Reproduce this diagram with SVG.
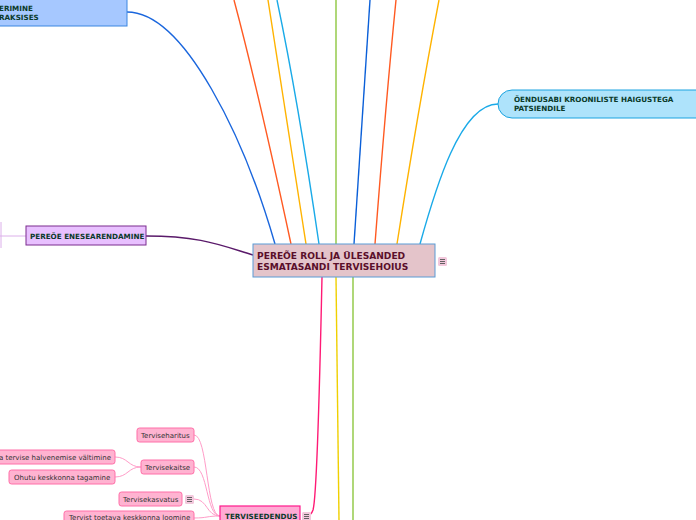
<svg xmlns="http://www.w3.org/2000/svg" width="696" height="520" viewBox="0 0 696 520">
<style>
.b{font-family:"DejaVu Sans",Verdana,sans-serif;font-weight:bold;font-size:7.2px;fill:#0a3a2a}
.c{font-family:"DejaVu Sans",Verdana,sans-serif;font-weight:bold;font-size:9.1px;fill:#5a0f2a}
.s{font-family:"DejaVu Sans",Verdana,sans-serif;font-size:7px;fill:#333}
.ch{fill:#ffb3d1;stroke:#ff6fa8;stroke-width:1}
.cl{fill:none;stroke:#ff9cc8;stroke-width:1}
.l{fill:none;stroke-width:1.4}
</style>
<defs>
<g id="note">
<rect x="0" y="0" width="9" height="9" rx="1.5" fill="#f2c8dc"/>
<path d="M2,2.5h5M2,4.5h5M2,6.5h5" stroke="#555" stroke-width="0.9"/>
</g>
</defs>
<rect width="696" height="520" fill="#fff"/>
<g id="connectors">
<path class="l" stroke="#1a66dd" d="M127,12 C185,12 245,140 275,244"/>
<path class="l" stroke="#ff5a22" d="M234,0 Q258,90 291,244"/>
<path class="l" stroke="#ffb300" d="M268,0 Q284,100 306,244"/>
<path class="l" stroke="#1aaae8" d="M277,0 Q298,100 319,244"/>
<path class="l" stroke="#8dc63f" d="M336,0 L336,244"/>
<path class="l" stroke="#0a5fd8" d="M370,0 Q363,100 354,244"/>
<path class="l" stroke="#ff5a22" d="M396,0 Q386,100 375,244"/>
<path class="l" stroke="#ffb300" d="M439,0 Q418,110 397,244"/>
<path class="l" stroke="#1aaae8" d="M420,244 C435,190 460,104 498,104"/>
<path class="l" stroke="#5a1a6a" d="M146,236 C200,236 220,245 253,255"/>
<path fill="none" stroke="#dcb0ea" stroke-width="1" d="M26,236 L0,236 M1,222 L1,248"/>
<path class="l" stroke="#ff1a75" d="M322,277 C319,420 316,500 313,510 Q311,516 306,516"/>
<path class="l" stroke="#f0d000" d="M336,277 L339,520"/>
<path class="l" stroke="#8dc63f" d="M353,277 L353,520"/>
<path class="cl" d="M194,435 C208,435 206,516 220,516"/>
<path class="cl" d="M194,467 C208,467 206,516 220,516"/>
<path class="cl" d="M194,499 C208,499 206,516 220,516"/>
<path class="cl" d="M194,518 C208,518 206,516 220,516"/>
<path class="cl" d="M141,467 C128,467 128,457 115,457"/>
<path class="cl" d="M141,467 C128,467 128,477 115,477"/>
</g>
<g id="central">
<rect x="253" y="244" width="182" height="33" fill="#e4c4ca" stroke="#5b9bd5" stroke-width="1"/>
<text class="c" x="257" y="259">PEREÕE ROLL JA ÜLESANDED</text>
<text class="c" x="257" y="270">ESMATASANDI TERVISEHOIUS</text>
<use href="#note" x="438" y="257"/>
</g>
<g id="topleft">
<rect x="-5" y="-5" width="132" height="31" fill="#a6c8ff" stroke="#3a86e0" stroke-width="1"/>
<text class="b" x="-1" y="11">ERIMINE</text>
<text class="b" x="-1" y="19.5">RAKSISES</text>
</g>
<g id="right">
<path d="M512,90 H700 V118 H512 A14,14 0 0 1 498,104 A14,14 0 0 1 512,90 Z" fill="#aee3fb" stroke="#1aa3e0" stroke-width="1"/>
<text class="b" x="514" y="102">ÕENDUSABI KROONILISTE HAIGUSTEGA</text>
<text class="b" x="514" y="111">PATSIENDILE</text>
</g>
<g id="enesearendamine">
<rect x="26" y="226" width="120" height="19" fill="#e8c0ff" stroke="#7b2d8e" stroke-width="1"/>
<text class="b" x="30" y="239">PEREÕE ENESEARENDAMINE</text>
</g>
<g id="terviseedendus">
<rect x="220" y="506" width="80" height="20" fill="#ffaad4" stroke="#ff1a8c" stroke-width="1.2"/>
<text class="b" x="225" y="519">TERVISEEDENDUS</text>
<use href="#note" x="302" y="512"/>
</g>
<g id="terviseharitus">
<rect class="ch" x="137" y="428" width="57" height="14" rx="2.5"/>
<text class="s" x="141" y="438">Terviseharitus</text>
</g>
<g id="tervisekaitse">
<rect class="ch" x="141" y="460" width="53" height="14" rx="2.5"/>
<text class="s" x="145" y="470">Tervisekaitse</text>
</g>
<g id="valtimine">
<rect class="ch" x="-5" y="450" width="120" height="14" rx="2.5"/>
<text class="s" x="111" y="460" text-anchor="end">a tervise halvenemise vältimine</text>
</g>
<g id="ohutu">
<rect class="ch" x="9" y="470" width="106" height="14" rx="2.5"/>
<text class="s" x="14" y="480">Ohutu keskkonna tagamine</text>
</g>
<g id="tervisekasvatus">
<rect class="ch" x="119" y="492" width="63" height="14" rx="2.5"/>
<text class="s" x="123" y="502">Tervisekasvatus</text>
<use href="#note" x="185" y="495"/>
</g>
<g id="toetava">
<rect class="ch" x="64" y="511" width="130" height="14" rx="2.5"/>
<text class="s" x="69" y="520">Tervist toetava keskkonna loomine</text>
</g>
</svg>
